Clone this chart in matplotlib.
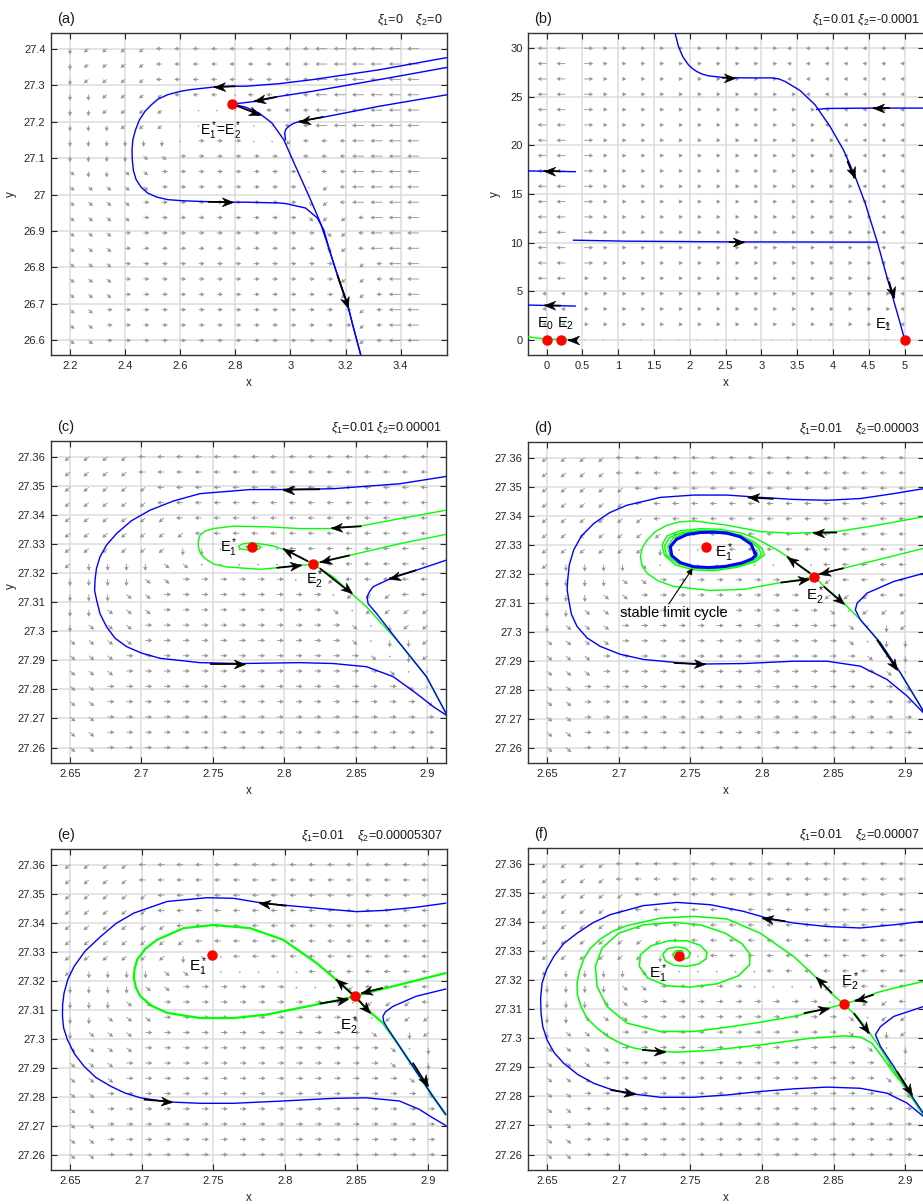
import numpy as np
import matplotlib
matplotlib.use('Agg')
import matplotlib.pyplot as plt
from matplotlib.markers import MarkerStyle
from matplotlib.path import Path
from matplotlib.transforms import Affine2D
from matplotlib.ticker import FormatStrFormatter

plt.rcParams['font.family'] = ['Liberation Sans', 'DejaVu Sans']
plt.rcParams['mathtext.fontset'] = 'custom'
plt.rcParams['mathtext.rm'] = 'Liberation Sans'
plt.rcParams['mathtext.it'] = 'Liberation Sans:italic'
plt.rcParams['mathtext.bf'] = 'Liberation Sans:bold'

BLUE = '#0000ff'
GREEN = '#00ff00'
GRAY = '#989898'

# ---------------- (a) xi1=0, xi2=0 ----------------
a_top_x = [3.571, 3.321, 3.079, 2.958, 2.836, 2.797, 2.725, 2.64, 2.60, 2.555, 2.52, 2.495, 2.472,
           2.452, 2.438, 2.428, 2.425, 2.426, 2.43, 2.44, 2.458, 2.482, 2.515, 2.555, 2.61, 2.676,
           2.785, 2.836, 2.958, 2.985, 3.055, 3.097, 3.121, 3.145, 3.176, 3.206, 3.224, 3.255]
a_top_y = [27.376, 27.342, 27.315, 27.304, 27.297, 27.297, 27.295, 27.288, 27.283, 27.274, 27.262,
           27.246, 27.228, 27.205, 27.178, 27.150, 27.122, 27.095, 27.066, 27.041, 27.020, 27.004,
           26.993, 26.986, 26.983, 26.981, 26.979, 26.979, 26.977, 26.975, 26.963, 26.936, 26.903,
           26.839, 26.766, 26.702, 26.648, 26.56]
a_mid_x = [3.571, 3.321, 3.079, 2.958, 2.879, 2.789]
a_mid_y = [27.349, 27.315, 27.283, 27.269, 27.256, 27.248]
a_steep_x = [2.789, 2.836, 2.885, 2.933, 2.976, 3.018, 3.067, 3.109, 3.145, 3.176, 3.206, 3.224, 3.255]
a_steep_y = [27.248, 27.24, 27.224, 27.196, 27.150, 27.078, 26.996, 26.922, 26.839, 26.766, 26.702,
             26.648, 26.56]
a_low_x = [3.571, 3.321, 3.139, 3.036, 3.010, 2.994, 2.984, 2.979, 2.982]
a_low_y = [27.274, 27.242, 27.215, 27.201, 27.195, 27.187, 27.180, 27.169, 27.150]
a_eq = [(2.789, 27.248)]
a_arrows = [(2.80, 27.297, 2.722, 27.295), (2.70, 26.980, 2.79, 26.979), (2.95, 27.268, 2.868, 27.256),
            (2.80, 27.245, 2.891, 27.218), (3.12, 27.213, 3.03, 27.200), (3.17, 26.78, 3.21, 26.69)]
a_field = [
    "dzzzzlllllllllLLLLLL",
    "dzzzzlllllllllLLLLLL",
    "dzzzzlllllllllLLLLLL",
    "ddzzzzlll.llllLLLLLL",
    "ddzzzz....llllLLLLLL",
    "dddzzz......llLLLLLL",
    "dddddd.rrr..zlllLLLL",
    "ddddnnrrrrrr.lllLLLL",
    "nddnnrrrrrrrr.llLLLL",
    "nnnnnrrrrrrrr.zlLLLL",
    "nnnnrrrrrrrrrnzlLLLL",
    "nnnnrrrrrrrrrnzzlLLL",
    "nnnrrrrrrrrrrrnzlLLL",
    "nnnrrrrrrrrrrrnzlLLL",
    "nnnrrrrrrrrrrrr.zlLL",
    "nnnrrrrrrrrrrrrzzlLL",
    "nnnrrrrrrrrrrrrzzlLL",
    "nnrrrrrrrrrrrrrrzlLL",
    "nnrrrrrrrrrrrrrrzlLL",
    "nnrrrrrrrrrrrrrrzlLL",
]

# ---------------- (b) xi1=0.01, xi2=-0.0001 ----------------
b_main_x = [1.795, 1.842, 1.902, 1.981, 2.035, 2.098, 2.17, 2.26, 2.47, 2.749, 3.144, 3.24, 3.33, 3.54,
            3.749, 3.958, 4.144, 4.307, 4.447, 4.563, 4.62, 4.749, 4.842, 4.935, 5.0]
b_main_y = [31.54, 30.17, 29.14, 28.29, 27.92, 27.6, 27.35, 27.16, 26.99, 26.95, 26.95, 26.85, 26.58,
            25.65, 24.18, 21.95, 19.55, 16.82, 14.08, 11.34, 10.0, 6.54, 4.14, 1.75, 0.0]
b_right_x = [5.27, 4.563, 3.912, 3.77]
b_right_y = [23.84, 23.84, 23.80, 23.70]
b_mid_x = [0.377, 1.121, 2.516, 4.62]
b_mid_y = [10.24, 10.14, 10.07, 10.04]
b_up_x = [0.40, -0.26]
b_up_y = [17.29, 17.37]
b_low_x = [0.40, -0.26]
b_low_y = [3.46, 3.56]
b_axis_x = [-0.26, 0.0, 0.40]
b_axis_y = [0.30, 0.05, 0.0]
b_eq = [(0.0, 0.0), (0.205, 0.0), (5.0, 0.0)]
b_arrows = [(2.45, 26.96, 2.63, 26.95), (4.20, 18.4, 4.30, 16.6), (4.78, 6.0, 4.85, 4.3),
            (4.80, 23.84, 4.56, 23.84), (2.55, 10.07, 2.76, 10.07), (0.19, 17.34, -0.04, 17.37),
            (0.20, 3.50, -0.03, 3.53), (0.42, 0.0, 0.30, 0.0)]
b_field = [
    "LLRrrrrrrrrrrlllllll",
    "LLRrrrrrrrrrrlllllll",
    "LLRrrrrrrrrrrlllllll",
    "LLRrrrrrrrrrrrllllll",
    "LLRrrrrrrrrrrrrlllll",
    "LLRrrrrrrrrrrrrlllll",
    "LLRrrrrrrrrrrrrrllll",
    "LLRrrrrrrrrrrrrrllll",
    "LLRrrrrrrrrrrrrrrlll",
    "LLRrrrrrrrrrrrrrrlll",
    "LLRrrrrrrrrrrrrrrlll",
    "LLRrrrrrrrrrrrrrrrll",
    "LLRrrrrrrrrrrrrrrrll",
    "LLRrrrrrrrrrrrrrrrll",
    "LLRrrrrrrrrrrrrrrrll",
    "LLrrrrrrrrrrrrrrrrrl",
    "llrrrrrrrrrrrrrrrrrl",
    "llrrrrrrrrrrrrrrrrrl",
    "llrrrrrrrrrrrrrrrrrl",
    "....................",
]

# ---------------- (c) xi2=0.00001 ----------------
c_outer_x = [2.913, 2.8807, 2.8341, 2.8038, 2.7758, 2.7409, 2.7225, 2.7059, 2.6930, 2.6826, 2.6755,
             2.6710, 2.6685, 2.6675, 2.6672, 2.6686, 2.6710, 2.6756, 2.6815, 2.6896, 2.7000, 2.7129,
             2.7409, 2.7688, 2.8108, 2.8341, 2.8574, 2.8760, 2.8923, 2.9040, 2.913]
c_outer_y = [27.3532, 27.3507, 27.3490, 27.3487, 27.3487, 27.3473, 27.3448, 27.3416, 27.3380, 27.3336,
             27.3296, 27.3256, 27.3216, 27.3176, 27.3140, 27.3107, 27.3060, 27.3015, 27.2976, 27.2947,
             27.2925, 27.2907, 27.2892, 27.2889, 27.2892, 27.2889, 27.2878, 27.2844, 27.2786, 27.2741,
             27.2712]
c_right_x = [2.913, 2.8923, 2.8760, 2.8620, 2.8595, 2.8578, 2.8585, 2.8644, 2.8807, 2.8993, 2.913]
c_right_y = [27.3244, 27.3210, 27.3185, 27.3153, 27.3136, 27.3118, 27.3095, 27.3061, 27.2958, 27.2844,
             27.2718]
c_loop_x = [2.913, 2.8807, 2.8527, 2.8341, 2.8108, 2.7875, 2.7642, 2.7502, 2.7445, 2.7409, 2.7398,
            2.7397, 2.7412, 2.7444, 2.7505, 2.7595, 2.7828, 2.8014, 2.8108, 2.8201]
c_loop_y = [27.3416, 27.3387, 27.3361, 27.3353, 27.3353, 27.3359, 27.3361, 27.3353, 27.3344, 27.3330,
            27.3311, 27.3290, 27.3268, 27.3250, 27.3231, 27.3221, 27.3213, 27.3221, 27.3227, 27.3230]
c_in_x = [2.913, 2.8807, 2.8457, 2.8271, 2.8201]
c_in_y = [27.3333, 27.3301, 27.3261, 27.3241, 27.3230]
c_spiral_x = [2.8201, 2.8108, 2.8014, 2.7921, 2.7851, 2.7770, 2.7712, 2.7677, 2.7693, 2.7758, 2.7823,
              2.7835, 2.7805, 2.7758, 2.7730, 2.7754, 2.7786, 2.7775, 2.7770]
c_spiral_y = [27.3230, 27.3256, 27.3278, 27.3293, 27.3299, 27.3304, 27.3301, 27.3292, 27.3283, 27.3278,
              27.3283, 27.3290, 27.3296, 27.3296, 27.3290, 27.3284, 27.3287, 27.3290, 27.3290]
c_down_x = [2.8201, 2.8341, 2.8457, 2.8574, 2.8807, 2.8993, 2.913]
c_down_y = [27.3230, 27.3187, 27.3135, 27.3084, 27.2958, 27.2844, 27.2718]
c_eq = [(2.777, 27.329), (2.8201, 27.3230)]
c_arrows = [(2.8248, 27.3488, 2.7991, 27.3487), (2.7479, 27.2889, 2.7723, 27.2889),
            (2.8539, 27.3361, 2.8329, 27.3355), (2.8457, 27.3261, 2.8248, 27.3237),
            (2.7945, 27.3218, 2.8119, 27.3227), (2.8166, 27.3240, 2.7991, 27.3284),
            (2.8248, 27.3216, 2.8469, 27.3130), (2.8923, 27.3210, 2.8732, 27.3181)]
c_field = [
    "zzzzllllllllllllllll",
    "zzzzllllllllllllllll",
    "zzzzzlllllllllllllll",
    "zzzzzlllllllllllllll",
    "zzzzzzllllllllllllll",
    "zzzzzzzlllllllllllll",
    "zzzzzzdd....llllllll",
    "zddddnn.......llllll",
    "ddddnnrrrrrr.zzlllll",
    "dddnnrrrrrrrrr.zzzll",
    "ddnnnrrrrrrrrrn.zzzz",
    "dnnnrrrrrrrrrrrn.dzz",
    "nnnnrrrrrrrrrrrn.ddz",
    "nnnrrrrrrrrrrrrrn.dz",
    "nnnrrrrrrrrrrrrrrn..",
    "nnrrrrrrrrrrrrrrrrn.",
    "nnrrrrrrrrrrrrrrrrrn",
    "nnrrrrrrrrrrrrrrrrrr",
    "nnrrrrrrrrrrrrrrrrrr",
    "nnrrrrrrrrrrrrrrrrrr",
]

# ---------------- (d) xi2=0.00003 ----------------
d_outer_x = [2.9126, 2.8919, 2.8686, 2.8453, 2.8221, 2.7988, 2.7756, 2.7523, 2.7291, 2.7058, 2.6935,
             2.6826, 2.6740, 2.6686, 2.6655, 2.6644, 2.6640, 2.6651, 2.6670, 2.6709, 2.6780, 2.6872,
             2.7010, 2.7174, 2.7523, 2.7872, 2.8221, 2.8453, 2.8686, 2.8872, 2.9012, 2.9126]
d_outer_y = [27.3493, 27.3476, 27.3459, 27.3453, 27.3456, 27.3463, 27.3471, 27.3471, 27.3463, 27.3436,
             27.3410, 27.3373, 27.3330, 27.3282, 27.3230, 27.3178, 27.3145, 27.3110, 27.3060, 27.3018,
             27.2978, 27.2949, 27.2922, 27.2904, 27.2888, 27.2890, 27.2898, 27.2898, 27.2881, 27.2835,
             27.2778, 27.2720]
d_right_x = [2.9126, 2.8919, 2.8733, 2.8663, 2.8651, 2.8686, 2.8826, 2.8965, 2.9126]
d_right_y = [27.3201, 27.3173, 27.3133, 27.3098, 27.3075, 27.3041, 27.2961, 27.2858, 27.2726]
d_loop_x = [2.9126, 2.8802, 2.8523, 2.8221, 2.7988, 2.7756, 2.7523, 2.7420, 2.7337, 2.7255, 2.7198,
            2.7165, 2.7151, 2.7162, 2.7198, 2.7275, 2.7384, 2.7640, 2.7872, 2.8128, 2.8267, 2.8365]
d_loop_y = [27.3396, 27.3367, 27.3345, 27.3339, 27.3345, 27.3367, 27.3382, 27.3378, 27.3367, 27.3345,
            27.3316, 27.3290, 27.3259, 27.3228, 27.3201, 27.3175, 27.3156, 27.3142, 27.3146, 27.3169,
            27.3180, 27.3190]
d_in_x = [2.9126, 2.8802, 2.8570, 2.8419, 2.8365]
d_in_y = [27.3287, 27.3247, 27.3219, 27.3201, 27.3190]
d_spiral_x = [2.8365, 2.8267, 2.8186, 2.8105, 2.8023, 2.7942, 2.7849, 2.7709, 2.7570, 2.7430, 2.7337,
              2.7302, 2.7319, 2.7395, 2.7523, 2.7663, 2.7826, 2.7953, 2.8016, 2.8000, 2.7942, 2.7849,
              2.7709, 2.7570, 2.7442, 2.7356, 2.7319, 2.7333, 2.7407, 2.7523, 2.7663, 2.7826, 2.7942,
              2.7995, 2.7981, 2.7930, 2.7849, 2.7709, 2.7570, 2.7453, 2.7379, 2.7342, 2.7356, 2.7419,
              2.7523, 2.7663, 2.7826, 2.7930, 2.7972, 2.7960]
d_spiral_y = [27.3190, 27.3224, 27.3256, 27.3282, 27.3304, 27.3325, 27.3341, 27.3353, 27.3355, 27.3348,
              27.3330, 27.3299, 27.3264, 27.3230, 27.3213, 27.3210, 27.3222, 27.3241, 27.3264, 27.3287,
              27.3310, 27.3333, 27.3347, 27.3349, 27.3342, 27.3325, 27.3295, 27.3264, 27.3236, 27.3219,
              27.3216, 27.3227, 27.3245, 27.3264, 27.3285, 27.3307, 27.3327, 27.3340, 27.3343, 27.3338,
              27.3322, 27.3293, 27.3264, 27.3238, 27.3223, 27.3221, 27.3230, 27.3247, 27.3264, 27.3282]
d_cycle_x = [2.7953, 2.7923, 2.7849, 2.7756, 2.7663, 2.7570, 2.7477, 2.7402, 2.7360, 2.7370, 2.7430,
             2.7523, 2.7628, 2.7744, 2.7860, 2.7930, 2.7956, 2.7953]
d_cycle_y = [27.3268, 27.3302, 27.3327, 27.3340, 27.3343, 27.3342, 27.3335, 27.3318, 27.3293, 27.3262,
             27.3238, 27.3224, 27.3221, 27.3225, 27.3237, 27.3251, 27.3263, 27.3268]
d_down_x = [2.8365, 2.8453, 2.8547, 2.8686, 2.8826, 2.8965, 2.9126]
d_down_y = [27.3190, 27.3146, 27.3110, 27.3041, 27.2961, 27.2858, 27.2726]
d_eq = [(2.761, 27.3293), (2.8365, 27.3190)]
d_arrows = [(2.8081, 27.3458, 2.7900, 27.3463), (2.7384, 27.2892, 2.7605, 27.2888),
            (2.8523, 27.3342, 2.8356, 27.3341), (2.8570, 27.3219, 2.8395, 27.3198),
            (2.8128, 27.3169, 2.8326, 27.3181), (2.8337, 27.3201, 2.8174, 27.3259),
            (2.8430, 27.3156, 2.8570, 27.3096), (2.8802, 27.2972, 2.8942, 27.2869)]
d_field = [
    "zzzzllllllllllllllll",
    "zzzzllllllllllllllll",
    "zzzzzlllllllllllllll",
    "zzzzzlllllllllllllll",
    "zzzzzzllllllllllllll",
    "zzzzzzzlllllllllllll",
    "zzzzzzd...llllllllll",
    "zddddn.........lllll",
    "ddddnnrrrrrrr..zllll",
    "dddnnrrrrrrrrr.zzzll",
    "ddnnnrrrrrrrrrrn.zzz",
    "dnnnrrrrrrrrrrrrn.dz",
    "nnnnrrrrrrrrrrrrn.dd",
    "nnnrrrrrrrrrrrrrrn.d",
    "nnnrrrrrrrrrrrrrrrn.",
    "nnrrrrrrrrrrrrrrrrrn",
    "nnrrrrrrrrrrrrrrrrrr",
    "nnrrrrrrrrrrrrrrrrrr",
    "nnrrrrrrrrrrrrrrrrrr",
    "nnrrrrrrrrrrrrrrrrrr",
]

# ---------------- (e) xi2=0.00005307 ----------------
e_outer_x = [2.9120, 2.8914, 2.8683, 2.8497, 2.8219, 2.7848, 2.7640, 2.7455, 2.7177, 2.6945, 2.6820,
             2.6713, 2.6605, 2.6528, 2.6485, 2.6458, 2.6448, 2.6447, 2.6455, 2.6481, 2.6530, 2.6597,
             2.6680, 2.6783, 2.6880, 2.6991, 2.7177, 2.7408, 2.7640, 2.7987, 2.8335, 2.8567, 2.8798,
             2.8937, 2.9030, 2.9120]
e_outer_y = [27.3467, 27.3453, 27.3442, 27.3438, 27.3450, 27.3467, 27.3484, 27.3486, 27.3473, 27.3433,
             27.3397, 27.3352, 27.3302, 27.3249, 27.3205, 27.3157, 27.3117, 27.3077, 27.3037, 27.2997,
             27.2948, 27.2905, 27.2866, 27.2836, 27.2813, 27.2796, 27.2782, 27.2777, 27.2777, 27.2785,
             27.2794, 27.2796, 27.2785, 27.2756, 27.2727, 27.2701]
e_right_x = [2.9120, 2.8914, 2.8752, 2.8700, 2.8683, 2.8688, 2.8706, 2.8798, 2.8914, 2.9030, 2.9120]
e_right_y = [27.3171, 27.3146, 27.3111, 27.3092, 27.3077, 27.3060, 27.3043, 27.2974, 27.2888, 27.2802,
             27.2739]
e_loop_x = [2.8486, 2.8358, 2.8219, 2.7987, 2.7756, 2.7501, 2.7292, 2.7107, 2.7025, 2.6968, 2.6950,
            2.6945, 2.6960, 2.6991, 2.7070, 2.7177, 2.7408, 2.7640, 2.7872, 2.8103, 2.8335, 2.8486]
e_loop_y = [27.3146, 27.3203, 27.3261, 27.3341, 27.3381, 27.3392, 27.3381, 27.3341, 27.3310, 27.3272,
            27.3240, 27.3209, 27.3175, 27.3146, 27.3113, 27.3089, 27.3071, 27.3071, 27.3083, 27.3106,
            27.3129, 27.3146]
e_in_x = [2.9120, 2.8798, 2.8590, 2.8486]
e_in_y = [27.3226, 27.3186, 27.3160, 27.3146]
e_down_x = [2.8486, 2.8578, 2.8683, 2.8798, 2.8914, 2.9030, 2.9120]
e_down_y = [27.3146, 27.3098, 27.3054, 27.2974, 27.2888, 27.2802, 27.2739]
e_eq = [(2.7489, 27.3287), (2.8486, 27.3146)]
e_arrows = [(2.8011, 27.3458, 2.7821, 27.3469), (2.7014, 27.2790, 2.7211, 27.2782),
            (2.8474, 27.3151, 2.8354, 27.3205), (2.8242, 27.3121, 2.8439, 27.3137),
            (2.8683, 27.3175, 2.8532, 27.3157), (2.8500, 27.3140, 2.8595, 27.3089),
            (2.8891, 27.2917, 2.8995, 27.2836)]
e_field = [
    "zzzzllllllllllllllll",
    "zzzzllllllllllllllll",
    "zzzzzlllllllllllllll",
    "zzzzzlllllllllllllll",
    "zzzzzzllllllllllllll",
    "zzzzzzzlllllllllllll",
    "zzzzzzd..lllllllllll",
    "zddddnn......lllllll",
    "ddddnnrrrrrr...zllll",
    "dddnnrrrrrrrrrr.zzzl",
    "ddnnnrrrrrrrrrrn.zzz",
    "dnnnrrrrrrrrrrrrn.dz",
    "nnnnrrrrrrrrrrrrrn.d",
    "nnnrrrrrrrrrrrrrrn.d",
    "nnnrrrrrrrrrrrrrrrn.",
    "nnrrrrrrrrrrrrrrrrrn",
    "nnrrrrrrrrrrrrrrrrrr",
    "nnrrrrrrrrrrrrrrrrrr",
    "nnrrrrrrrrrrrrrrrrrr",
    "nnrrrrrrrrrrrrrrrrrr",
]

# ---------------- (f) xi2=0.00007 ----------------
f_outer_x = [2.9126, 2.8919, 2.8686, 2.8453, 2.8221, 2.8035, 2.7872, 2.7640, 2.7407, 2.7174, 2.6942,
             2.6820, 2.6709, 2.6615, 2.6547, 2.6495, 2.6465, 2.6455, 2.6458, 2.6470, 2.6500, 2.6550,
             2.6616, 2.6715, 2.6826, 2.6940, 2.7058, 2.7291, 2.7523, 2.7756, 2.7988, 2.8221, 2.8453,
             2.8686, 2.8872, 2.9012, 2.9126]
f_outer_y = [27.3402, 27.3390, 27.3379, 27.3384, 27.3396, 27.3413, 27.3436, 27.3459, 27.3467, 27.3456,
             27.3425, 27.3397, 27.3361, 27.3325, 27.3281, 27.3235, 27.3189, 27.3138, 27.3086, 27.3040,
             27.2994, 27.2950, 27.2914, 27.2875, 27.2845, 27.2825, 27.2811, 27.2797, 27.2797, 27.2805,
             27.2817, 27.2826, 27.2832, 27.2828, 27.2811, 27.2777, 27.2731]
f_right_x = [2.9126, 2.8919, 2.8826, 2.8791, 2.8826, 2.8919, 2.9023, 2.9126]
f_right_y = [27.3109, 27.3075, 27.3040, 27.3012, 27.2972, 27.2903, 27.2817, 27.2742]
f_unst_x = [2.8570, 2.8477, 2.8395, 2.8221, 2.7988, 2.7756, 2.7523, 2.7291, 2.7058, 2.6955, 2.6872,
            2.6800, 2.6756, 2.6725, 2.6709, 2.6712, 2.6737, 2.6780, 2.6849, 2.6925, 2.7012, 2.7100,
            2.7198, 2.7407, 2.7640, 2.7988, 2.8337, 2.8570, 2.8686, 2.8767, 2.8837, 2.8919, 2.9023,
            2.9126]
f_unst_y = [27.3117, 27.3157, 27.3201, 27.3281, 27.3361, 27.3410, 27.3419, 27.3413, 27.3387, 27.3367,
            27.3341, 27.3308, 27.3272, 27.3230, 27.3189, 27.3148, 27.3109, 27.3068, 27.3035, 27.3005,
            27.2983, 27.2967, 27.2958, 27.2952, 27.2958, 27.2977, 27.3000, 27.3008, 27.3004, 27.2983,
            27.2937, 27.2880, 27.2817, 27.2736]
f_spiral_x = [2.7419, 2.7453, 2.7442, 2.7402, 2.7377, 2.7391, 2.7435, 2.7486, 2.7500, 2.7467, 2.7407,
              2.7342, 2.7307, 2.7323, 2.7384, 2.7472, 2.7558, 2.7609, 2.7616, 2.7570, 2.7477, 2.7349,
              2.7226, 2.7151, 2.7144, 2.7202, 2.7337, 2.7500, 2.7686, 2.7837, 2.7914, 2.7914, 2.7860,
              2.7744, 2.7570, 2.7384, 2.7174, 2.7000, 2.6884, 2.6837, 2.6849, 2.6919, 2.7058, 2.7291,
              2.7523, 2.7756, 2.7988, 2.8221, 2.8430, 2.8570]
f_spiral_y = [27.3283, 27.3289, 27.3301, 27.3301, 27.3289, 27.3274, 27.3269, 27.3277, 27.3293, 27.3309,
              27.3314, 27.3308, 27.3289, 27.3267, 27.3251, 27.3247, 27.3255, 27.3273, 27.3295, 27.3319,
              27.3335, 27.3335, 27.3318, 27.3287, 27.3247, 27.3207, 27.3180, 27.3176, 27.3187, 27.3215,
              27.3253, 27.3290, 27.3325, 27.3361, 27.3390, 27.3398, 27.3390, 27.3361, 27.3310, 27.3247,
              27.3178, 27.3109, 27.3052, 27.3023, 27.3023, 27.3038, 27.3055, 27.3075, 27.3100, 27.3117]
f_in_x = [2.9126, 2.8919, 2.8802, 2.8686, 2.8570]
f_in_y = [27.3195, 27.3172, 27.3157, 27.3134, 27.3117]
f_down_x = [2.8570, 2.8663, 2.8744, 2.8826, 2.8919, 2.9023, 2.9126]
f_down_y = [27.3117, 27.3075, 27.3023, 27.2966, 27.2891, 27.2811, 27.2736]
f_eq = [(2.7419, 27.3283), (2.8570, 27.3117)]
f_arrows = [(2.8163, 27.3402, 2.8000, 27.3413), (2.6942, 27.2822, 2.7116, 27.2809),
            (2.8488, 27.3155, 2.8379, 27.3209), (2.7163, 27.2960, 2.7326, 27.2954),
            (2.8291, 27.3086, 2.8465, 27.3103), (2.8779, 27.3150, 2.8647, 27.3129),
            (2.8640, 27.3086, 2.8744, 27.3017), (2.8942, 27.2886, 2.9047, 27.2805)]
f_field = [
    "zzzzllllllllllllllll",
    "zzzzllllllllllllllll",
    "zzzzzlllllllllllllll",
    "zzzzzlllllllllllllll",
    "zzzzzzllllllllllllll",
    "zzzzzzzlllllllllllll",
    "zzzzzzd..lllllllllll",
    "zddddn......llllllll",
    "ddddnnrrrrr....zllll",
    "dddnnrrrrrrrrrr..zzl",
    "ddnnnrrrrrrrrrrrn.zz",
    "dnnnrrrrrrrrrrrrn.dz",
    "nnnnrrrrrrrrrrrrrn.d",
    "nnnrrrrrrrrrrrrrrrn.",
    "nnnrrrrrrrrrrrrrrrn.",
    "nnrrrrrrrrrrrrrrrrrn",
    "nnrrrrrrrrrrrrrrrrrr",
    "nnrrrrrrrrrrrrrrrrrr",
    "nnrrrrrrrrrrrrrrrrrr",
    "nnrrrrrrrrrrrrrrrrrr",
]

# direction of each field symbol, in screen degrees
DIRS = {'l': 180, 'r': 0, 'd': 270, 'u': 90, 'z': 220, 'n': 320, 'q': 135, 'p': 45, '.': 270}

HEAD = Path([(0, 0), (-2, 0.8), (-1.4, 0), (-2, -0.8), (0, 0)],
            [Path.MOVETO, Path.LINETO, Path.LINETO, Path.LINETO, Path.CLOSEPOLY])


def draw_field(ax, xs, ys, rows, base):
    X, Y = np.meshgrid(xs, ys)
    U = np.zeros(X.shape)
    V = np.zeros(X.shape)
    for i, row in enumerate(rows):
        for j, ch in enumerate(row):
            if ch == '.':
                size = 0.3
            elif ch.isupper():
                size = 2.0
            else:
                size = 1.0
            a = np.radians(DIRS[ch.lower()])
            U[i, j] = base * size * np.cos(a)
            V[i, j] = base * size * np.sin(a)
    ax.quiver(X, Y, U, V, angles='uv', scale_units='dots', scale=1, units='dots', width=0.9,
              headwidth=5, headlength=4.5, headaxislength=4, color=GRAY, zorder=2)


def flow_arrow(ax, x0, y0, x1, y1):
    ax.plot([x0, x1], [y0, y1], color='k', lw=1.3, zorder=6, solid_capstyle='butt')
    p0 = ax.transData.transform((x0, y0))
    p1 = ax.transData.transform((x1, y1))
    ang = np.degrees(np.arctan2(p1[1] - p0[1], p1[0] - p0[0]))
    m = MarkerStyle(HEAD, transform=Affine2D().rotate_deg(ang))
    ax.plot([x1], [y1], marker=m, ms=16, color='k', mec='k', mew=0.4, ls='none', zorder=7)


def setup(ax, xlim, ylim, xticks, yticks, tag, params):
    ax.set_xlim(xlim)
    ax.set_ylim(ylim)
    ax.set_xticks(xticks)
    ax.set_yticks(yticks)
    ax.xaxis.set_major_formatter(FormatStrFormatter('%g'))
    ax.yaxis.set_major_formatter(FormatStrFormatter('%g'))
    ax.grid(True, color='#dcdcdc', lw=1.1)
    ax.set_axisbelow(True)
    ax.tick_params(direction='in', top=True, right=True, length=4, width=0.8,
                   labelsize=8, colors='#262626', pad=4)
    for s in ax.spines.values():
        s.set_linewidth(1.0)
        s.set_color('#333333')
    w, h = ax.bbox.width, ax.bbox.height
    ax.text(6 / w, 1 + 7 / h, tag, transform=ax.transAxes, fontsize=10.5,
            ha='left', va='bottom', color='#1a1a1a')
    ax.text(1 - 4 / w, 1 + 5 / h, params, transform=ax.transAxes, fontsize=9,
            ha='right', va='bottom', color='#1a1a1a')
    ax.set_xlabel('x', fontsize=8.5, color='#262626')
    ax.xaxis.set_label_coords(0.5, -22 / h)


def curves(ax, pairs, color, lw=1.0):
    for xs, ys in pairs:
        ax.plot(xs, ys, color=color, lw=lw, zorder=4)


def dots(ax, pts):
    for x, y in pts:
        ax.plot(x, y, 'o', color='#ff0000', ms=6.5, mec='#ff0000', zorder=8)


fig = plt.figure(figsize=(9.23, 12.04), dpi=100)
W, H = 923.0, 1204.0


def px_axes(l, t, r, b):
    return fig.add_axes([l / W, 1 - b / H, (r - l) / W, (b - t) / H])


ax_a = px_axes(51, 33, 447, 355)
ax_b = px_axes(528, 33, 924, 355)
ax_c = px_axes(51, 441, 446, 763)
ax_d = px_axes(528, 442, 924, 763)
ax_e = px_axes(51, 849, 447, 1170)
ax_f = px_axes(528, 848, 924, 1170)

zoom_xlim = (2.6367, 2.913)
zoom_ylim = (27.2547, 27.3654)
zoom_xticks = [2.65, 2.7, 2.75, 2.8, 2.85, 2.9]
zoom_yticks = [27.26, 27.27, 27.28, 27.29, 27.3, 27.31, 27.32, 27.33, 27.34, 27.35, 27.36]
zoom_gx = np.linspace(2.65, 2.9, 20)
zoom_gy = np.linspace(27.36, 27.26, 20)

# (a)
setup(ax_a, (2.131, 3.568), (26.56, 27.443), [2.2, 2.4, 2.6, 2.8, 3.0, 3.2, 3.4],
      [26.6, 26.7, 26.8, 26.9, 27.0, 27.1, 27.2, 27.3, 27.4], '(a)',
      r'$\xi_1$=0    $\xi_2$=0')
draw_field(ax_a, np.linspace(2.2, 3.4667, 20), np.linspace(27.4, 26.6, 20), a_field, 6)
curves(ax_a, [(a_top_x, a_top_y), (a_mid_x, a_mid_y), (a_steep_x, a_steep_y), (a_low_x, a_low_y)], BLUE)
for arr in a_arrows:
    flow_arrow(ax_a, *arr)
dots(ax_a, a_eq)
ax_a.text(2.673, 27.163, r'$\mathrm{E}_1^*$=$\mathrm{E}_2^*$', fontsize=10, ha='left', va='baseline')
ax_a.set_ylabel('y', fontsize=8.5, color='#262626')
ax_a.yaxis.set_label_coords(-34 / 396, 0.5)

# (b)
setup(ax_b, (-0.259, 5.27), (-1.58, 31.57), [0, 0.5, 1, 1.5, 2, 2.5, 3, 3.5, 4, 4.5, 5],
      [0, 5, 10, 15, 20, 25, 30], '(b)', r'$\xi_1$=0.01 $\xi_2$=-0.0001')
draw_field(ax_b, np.linspace(0, 5, 20), np.linspace(30, 0, 20), b_field, 4.5)
curves(ax_b, [(b_axis_x, b_axis_y)], GREEN)
curves(ax_b, [(b_main_x, b_main_y), (b_right_x, b_right_y), (b_mid_x, b_mid_y),
              (b_up_x, b_up_y), (b_low_x, b_low_y)], BLUE)
for arr in b_arrows:
    flow_arrow(ax_b, *arr)
dots(ax_b, b_eq)
ax_b.text(-0.02, 1.2, r'$\mathrm{E}_0$', fontsize=10.5, ha='center', va='baseline')
ax_b.text(0.26, 1.2, r'$\mathrm{E}_2$', fontsize=10.5, ha='center', va='baseline')
ax_b.text(4.71, 1.1, r'$\mathrm{E}_1$', fontsize=10.5, ha='center', va='baseline')
ax_b.set_ylabel('y', fontsize=8.5, color='#262626')
ax_b.yaxis.set_label_coords(-27 / 396, 0.5)

# (c)
setup(ax_c, zoom_xlim, zoom_ylim, zoom_xticks, zoom_yticks, '(c)', r'$\xi_1$=0.01 $\xi_2$=0.00001')
draw_field(ax_c, zoom_gx, zoom_gy, c_field, 7)
curves(ax_c, [(c_loop_x, c_loop_y), (c_in_x, c_in_y), (c_spiral_x, c_spiral_y),
              (c_down_x, c_down_y)], GREEN)
curves(ax_c, [(c_outer_x, c_outer_y), (c_right_x, c_right_y)], BLUE)
for arr in c_arrows:
    flow_arrow(ax_c, *arr)
dots(ax_c, c_eq)
ax_c.text(2.7548, 27.3273, r'$\mathrm{E}_1^*$', fontsize=10.5, ha='left', va='baseline')
ax_c.text(2.8154, 27.3164, r'$\mathrm{E}_2^*$', fontsize=10.5, ha='left', va='baseline')
ax_c.set_ylabel('y', fontsize=8.5, color='#262626')
ax_c.yaxis.set_label_coords(-34 / 395, 0.55)

# (d)
setup(ax_d, zoom_xlim, zoom_ylim, zoom_xticks, zoom_yticks, '(d)', r'$\xi_1$=0.01    $\xi_2$=0.00003')
draw_field(ax_d, zoom_gx, zoom_gy, d_field, 7)
curves(ax_d, [(d_loop_x, d_loop_y), (d_in_x, d_in_y), (d_spiral_x, d_spiral_y),
              (d_down_x, d_down_y)], GREEN)
curves(ax_d, [(d_outer_x, d_outer_y), (d_right_x, d_right_y)], BLUE)
ax_d.plot(d_cycle_x, d_cycle_y, color=BLUE, lw=2.2, zorder=5)
for arr in d_arrows:
    flow_arrow(ax_d, *arr)
dots(ax_d, d_eq)
ax_d.text(2.7674, 27.3259, r'$\mathrm{E}_1^*$', fontsize=11, ha='left', va='baseline')
ax_d.text(2.8310, 27.3110, r'$\mathrm{E}_2^*$', fontsize=11, ha='left', va='baseline')
ax_d.text(2.7012, 27.3050, 'stable limit cycle', fontsize=10.5, ha='left', va='baseline')
ax_d.annotate('', xy=(2.7516, 27.3219), xytext=(2.7349, 27.3095),
              arrowprops=dict(arrowstyle='-|>', color='k', lw=0.8, mutation_scale=9,
                              shrinkA=0, shrinkB=0), zorder=7)

# (e)
setup(ax_e, zoom_xlim, zoom_ylim, zoom_xticks, zoom_yticks, '(e)', r'$\xi_1$=0.01    $\xi_2$=0.00005307')
draw_field(ax_e, zoom_gx, zoom_gy, e_field, 7)
curves(ax_e, [(e_loop_x, e_loop_y), (e_in_x, e_in_y), (e_down_x, e_down_y)], GREEN, lw=1.6)
curves(ax_e, [(e_outer_x, e_outer_y), (e_right_x, e_right_y)], BLUE)
for arr in e_arrows:
    flow_arrow(ax_e, *arr)
dots(ax_e, e_eq)
ax_e.text(2.7332, 27.3232, r'$\mathrm{E}_1^*$', fontsize=11, ha='left', va='baseline')
ax_e.text(2.8381, 27.3031, r'$\mathrm{E}_2^*$', fontsize=11, ha='left', va='baseline')

# (f)
setup(ax_f, zoom_xlim, zoom_ylim, zoom_xticks, zoom_yticks, '(f)', r'$\xi_1$=0.01    $\xi_2$=0.00007')
draw_field(ax_f, zoom_gx, zoom_gy, f_field, 7)
curves(ax_f, [(f_unst_x, f_unst_y), (f_spiral_x, f_spiral_y), (f_in_x, f_in_y),
              (f_down_x, f_down_y)], GREEN, lw=1.1)
curves(ax_f, [(f_outer_x, f_outer_y), (f_right_x, f_right_y)], BLUE)
for arr in f_arrows:
    flow_arrow(ax_f, *arr)
dots(ax_f, f_eq)
ax_f.text(2.7209, 27.3207, r'$\mathrm{E}_1^*$', fontsize=11, ha='left', va='baseline')
ax_f.text(2.8551, 27.3178, r'$\mathrm{E}_2^*$', fontsize=11, ha='left', va='baseline')

fig.savefig('out.png', dpi=100)
